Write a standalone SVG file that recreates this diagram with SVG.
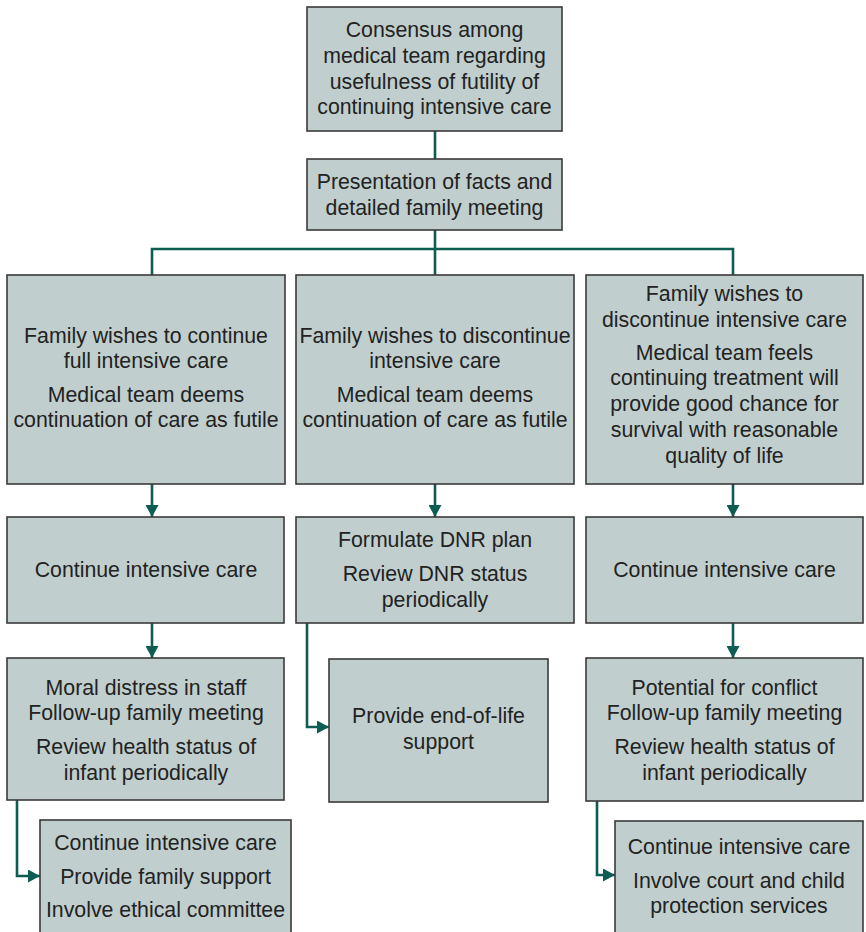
<svg xmlns="http://www.w3.org/2000/svg" width="866" height="932" viewBox="0 0 866 932">
<style>
.box{fill:#c0cfcd;stroke:#3a3a3a;stroke-width:1.6}
text{font-family:"Liberation Sans",Arial,sans-serif;font-size:21.3px;fill:#222;text-anchor:middle}
.c{fill:none;stroke:#0d5d52;stroke-width:2.6}
</style>
<defs>
<marker id="ah" markerWidth="13" markerHeight="13" refX="12" refY="6.5" orient="auto" markerUnits="userSpaceOnUse" viewBox="0 0 13 13">
<path d="M0,0 L12,6.5 L0,13 Z" fill="#0d5d52"/>
</marker>
</defs>
<rect width="866" height="932" fill="#fff"/>
<g id="connectors">
<path class="c" d="M435,131 V159"/>
<path class="c" d="M435,230 V275"/>
<path class="c" d="M152,275 V249 H733 V275"/>
<path class="c" d="M152,484 V517" marker-end="url(#ah)"/>
<path class="c" d="M435,484 V517" marker-end="url(#ah)"/>
<path class="c" d="M733,484 V517" marker-end="url(#ah)"/>
<path class="c" d="M152,623 V658" marker-end="url(#ah)"/>
<path class="c" d="M733,623 V658" marker-end="url(#ah)"/>
<path class="c" d="M307,623 V727 H329" marker-end="url(#ah)"/>
<path class="c" d="M17,800 V876 H40" marker-end="url(#ah)"/>
<path class="c" d="M597,801 V875 H615" marker-end="url(#ah)"/>
</g>
<g id="n1"><rect class="box" x="307" y="7" width="255" height="124"/>
<text x="434.5" y="37">Consensus among</text><text x="434.5" y="63">medical team regarding</text><text x="434.5" y="89">usefulness of futility of</text><text x="434.5" y="114">continuing intensive care</text></g>
<g id="n2"><rect class="box" x="307" y="159" width="255" height="71"/>
<text x="434.5" y="189">Presentation of facts and</text><text x="434.5" y="215">detailed family meeting</text></g>
<g id="n3"><rect class="box" x="7" y="275" width="278" height="209"/>
<text x="146" y="343">Family wishes to continue</text><text x="146" y="368">full intensive care</text><text x="146" y="402">Medical team deems</text><text x="146" y="427">continuation of care as futile</text></g>
<g id="n4"><rect class="box" x="296" y="275" width="278" height="209"/>
<text x="435" y="343">Family wishes to discontinue</text><text x="435" y="368">intensive care</text><text x="435" y="402">Medical team deems</text><text x="435" y="427">continuation of care as futile</text></g>
<g id="n5"><rect class="box" x="586" y="275" width="277" height="209"/>
<text x="724.5" y="301">Family wishes to</text><text x="724.5" y="327">discontinue intensive care</text><text x="724.5" y="360">Medical team feels</text><text x="724.5" y="385">continuing treatment will</text><text x="724.5" y="411">provide good chance for</text><text x="724.5" y="437">survival with reasonable</text><text x="724.5" y="463">quality of life</text></g>
<g id="n6"><rect class="box" x="7" y="517" width="277" height="106"/>
<text x="146" y="577">Continue intensive care</text></g>
<g id="n7"><rect class="box" x="296" y="517" width="278" height="106"/>
<text x="435" y="547">Formulate DNR plan</text><text x="435" y="581">Review DNR status</text><text x="435" y="607">periodically</text></g>
<g id="n8"><rect class="box" x="586" y="517" width="277" height="106"/>
<text x="724.5" y="577">Continue intensive care</text></g>
<g id="n9"><rect class="box" x="7" y="658" width="277" height="142"/>
<text x="146" y="695">Moral distress in staff</text><text x="146" y="720">Follow-up family meeting</text><text x="146" y="754">Review health status of</text><text x="146" y="780">infant periodically</text></g>
<g id="n10"><rect class="box" x="329" y="659" width="219" height="143"/>
<text x="438.5" y="723">Provide end-of-life</text><text x="438.5" y="749">support</text></g>
<g id="n11"><rect class="box" x="586" y="658" width="277" height="143"/>
<text x="724.5" y="695">Potential for conflict</text><text x="724.5" y="720">Follow-up family meeting</text><text x="724.5" y="754">Review health status of</text><text x="724.5" y="780">infant periodically</text></g>
<g id="n12"><rect class="box" x="40" y="820" width="251" height="130"/>
<text x="165.5" y="850">Continue intensive care</text><text x="165.5" y="884">Provide family support</text><text x="165.5" y="917">Involve ethical committee</text></g>
<g id="n13"><rect class="box" x="615" y="821" width="248" height="130"/>
<text x="739" y="854">Continue intensive care</text><text x="739" y="888">Involve court and child</text><text x="739" y="913">protection services</text></g>
</svg>
